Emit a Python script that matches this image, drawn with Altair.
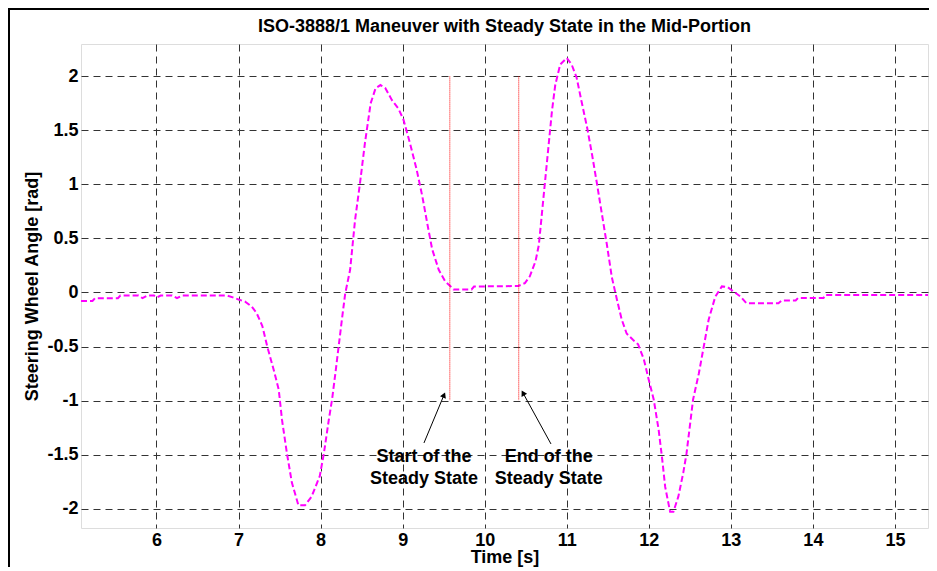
import math
import altair as alt
import pandas as pd

# ---------------- data ----------------
time_s = [5.08, 5.22, 5.25, 5.53, 5.56, 5.78, 5.83, 5.89, 5.97, 6.01, 6.05, 6.19, 6.25, 6.31,
          6.86, 6.93, 7.00, 7.08, 7.16, 7.22, 7.29, 7.35, 7.43, 7.49, 7.53, 7.59, 7.65, 7.73,
          7.81, 7.89, 7.99, 8.04, 8.10, 8.14, 8.18, 8.22, 8.26, 8.30, 8.36, 8.42, 8.48, 8.54,
          8.61, 8.67, 8.73, 8.79, 8.87, 8.95, 9.01, 9.09, 9.17, 9.24, 9.30, 9.36, 9.44, 9.52,
          9.58, 9.62, 9.84, 9.87, 10.41, 10.49, 10.55, 10.62, 10.66, 10.70, 10.74, 10.78, 10.82,
          10.86, 10.92, 11.00, 11.06, 11.12, 11.18, 11.25, 11.31, 11.37, 11.43, 11.49, 11.55,
          11.61, 11.67, 11.73, 11.81, 11.87, 11.94, 12.00, 12.06, 12.12, 12.16, 12.20, 12.26,
          12.30, 12.36, 12.42, 12.46, 12.50, 12.54, 12.61, 12.67, 12.73, 12.81, 12.89, 12.96,
          13.05, 13.12, 13.19, 13.58, 13.62, 13.79, 13.82, 14.13, 14.15, 15.50]
angle_rad = [-0.078, -0.078, -0.053, -0.053, -0.028, -0.028, -0.053, -0.028, -0.028, -0.045,
             -0.028, -0.028, -0.053, -0.028, -0.028, -0.045, -0.065, -0.085, -0.13, -0.19,
             -0.31, -0.50, -0.72, -0.90, -1.18, -1.49, -1.76, -1.97, -1.97, -1.89, -1.70,
             -1.49, -1.18, -0.99, -0.75, -0.50, -0.25, -0.01, 0.21, 0.67, 1.01, 1.38, 1.75,
             1.89, 1.92, 1.89, 1.78, 1.70, 1.60, 1.38, 1.14, 0.89, 0.64, 0.40, 0.21, 0.10,
             0.06, 0.028, 0.028, 0.055, 0.06, 0.087, 0.15, 0.29, 0.44, 0.75, 1.06, 1.37, 1.68,
             1.92, 2.11, 2.17, 2.11, 1.99, 1.77, 1.52, 1.27, 1.00, 0.72, 0.44, 0.14, -0.06,
             -0.25, -0.38, -0.44, -0.48, -0.62, -0.81, -0.99, -1.27, -1.52, -1.80, -2.03,
             -2.03, -1.89, -1.67, -1.49, -1.24, -0.99, -0.75, -0.50, -0.25, -0.04, 0.056,
             0.05, 0.0, -0.04, -0.10, -0.10, -0.074, -0.074, -0.05, -0.05, -0.024, -0.024]

marker_t = [9.575, 10.415]
marker_top = [2.0, 2.0]
marker_bottom = [-1.0, -1.0]

note_text = ["Start of the\nSteady State", "End of the\nSteady State"]
note_t = [9.26, 10.78]
note_y = [-1.566, -1.566]
arrow_tail_t = [9.26, 10.808]
arrow_tail_y = [-1.393, -1.402]
arrow_head_t = [9.504, 10.467]
arrow_head_y = [-0.949, -0.930]

x_ticks = [6, 7, 8, 9, 10, 11, 12, 13, 14, 15]
y_ticks = [-2, -1.5, -1, -0.5, 0, 0.5, 1, 1.5, 2]

X_DOMAIN = [5.08, 15.403]
Y_DOMAIN = [-2.18, 2.3]
W, H = 847, 484
PAD_BOTTOM = 39
FONT = "Liberation Sans"

# arrow head orientation from the arrow geometry (screen units)
px_x = W / (X_DOMAIN[1] - X_DOMAIN[0])
px_y = H / (Y_DOMAIN[1] - Y_DOMAIN[0])
head_angle = [
    math.degrees(math.atan2((h - t) * px_x, (hy - ty) * px_y)) % 360
    for t, ty, h, hy in zip(arrow_tail_t, arrow_tail_y, arrow_head_t, arrow_head_y)
]

curve = pd.DataFrame({"t": time_s, "a": angle_rad})
markers = pd.DataFrame({"t": marker_t, "top": marker_top, "bottom": marker_bottom})
notes = pd.DataFrame({"t": note_t, "y": note_y, "txt": note_text})
arrows = pd.DataFrame({"t0": arrow_tail_t, "y0": arrow_tail_y,
                       "t1": arrow_head_t, "y1": arrow_head_y, "ang": head_angle})

xs = alt.Scale(domain=X_DOMAIN, nice=False, zero=False)
ys = alt.Scale(domain=Y_DOMAIN, nice=False, zero=False)

x_axis = alt.Axis(values=x_ticks, title="Time [s]", grid=True, gridDash=[7, 5],
                  gridColor="#333333", gridWidth=1, gridOpacity=1, domain=False, ticks=False,
                  labelPadding=3, labelFontSize=18, labelFont=FONT, labelFontWeight="bold",
                  labelColor="black", titleFontSize=18, titleFont=FONT, titleFontWeight="bold",
                  titleColor="black", titlePadding=-1, labelExpr="datum.value + ''")
y_axis = alt.Axis(values=y_ticks, title="Steering Wheel Angle [rad]", grid=True,
                  gridDash=[7, 5], gridColor="#333333", gridWidth=1, gridOpacity=1,
                  domain=False, ticks=False, labelPadding=3, labelFontSize=18, labelFont=FONT,
                  labelFontWeight="bold", labelColor="black", titleFontSize=18, titleFont=FONT,
                  titleFontWeight="bold", titleColor="black", titlePadding=5,
                  labelExpr="datum.value + ''")

line = alt.Chart(curve).mark_line(color="#ff00ff", strokeWidth=2, strokeDash=[6, 3],
                                  clip=True).encode(
    x=alt.X("t:Q", scale=xs, axis=x_axis),
    y=alt.Y("a:Q", scale=ys, axis=y_axis),
    order="t:Q",
)

red = alt.Chart(markers).mark_rule(color="#ff0000", strokeWidth=1, strokeDash=[1, 1]).encode(
    x="t:Q", y="top:Q", y2="bottom:Q")

arrow_lines = alt.Chart(arrows).mark_rule(color="black", strokeWidth=1).encode(
    x="t0:Q", y="y0:Q", x2="t1:Q", y2="y1:Q")

arrow_heads = alt.Chart(arrows).mark_point(shape="triangle-up", filled=True, color="black",
                                           size=40, opacity=1).encode(
    x="t1:Q", y="y1:Q", angle=alt.Angle("ang:Q", scale=None))

texts = alt.Chart(notes).mark_text(font=FONT, fontSize=18, fontWeight="bold", color="black",
                                   lineBreak="\n", lineHeight=22, baseline="alphabetic",
                                   align="center").encode(
    x="t:Q", y="y:Q", text="txt:N")

frame_left = alt.Chart(curve).mark_rule(color="black", strokeWidth=2).encode(
    x=alt.value(-72), y=alt.value(-36), y2=alt.value(H + PAD_BOTTOM))
frame_top = alt.Chart(curve).mark_rule(color="black", strokeWidth=2).encode(
    x=alt.value(-73), x2=alt.value(W + 1), y=alt.value(-35))

chart = alt.layer(line, red, arrow_lines, arrow_heads, texts, frame_left, frame_top).properties(
    width=W, height=H,
    title=alt.TitleParams("ISO-3888/1 Maneuver with Steady State in the Mid-Portion",
                          fontSize=18, font=FONT, fontWeight="bold", color="black",
                          anchor="middle", frame="group", baseline="alphabetic", offset=0,
                          dy=43),
    autosize=alt.AutoSizeParams(type="none"),
    padding={"left": 73, "top": 36, "right": 1, "bottom": PAD_BOTTOM},
).configure_view(stroke="black", strokeWidth=1.5).configure(background="white")

chart.save("out.html", embed_options={"renderer": "svg", "actions": False})
